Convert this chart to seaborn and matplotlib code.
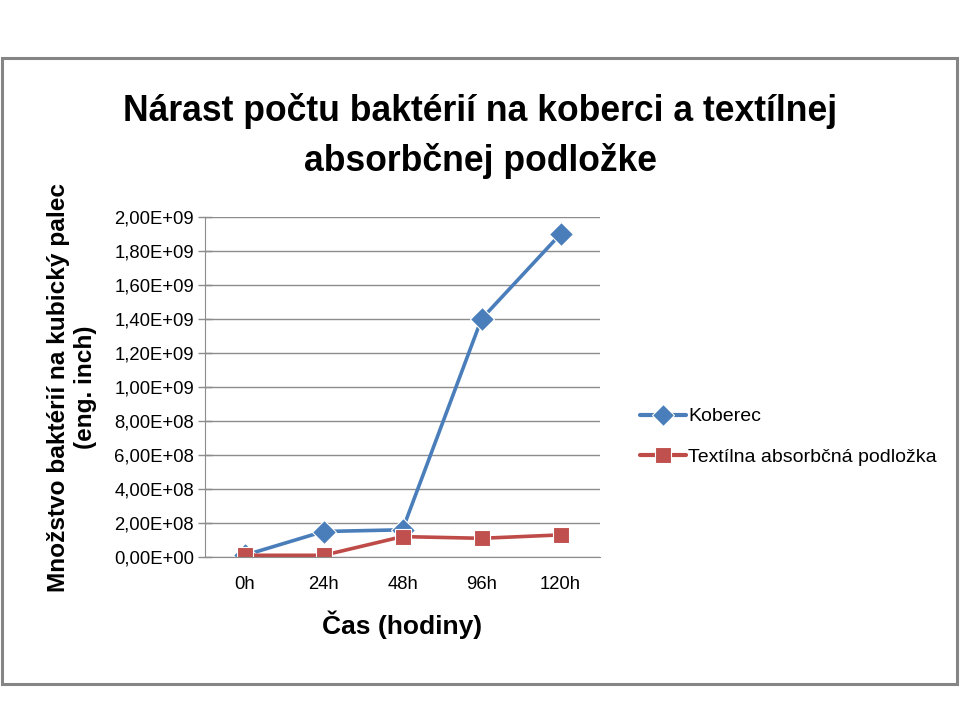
import pandas as pd
import seaborn as sns
import matplotlib.pyplot as plt
from matplotlib.patches import Rectangle
from matplotlib.ticker import FuncFormatter, MultipleLocator

casy = ['0h', '24h', '48h', '96h', '120h']
koberec = [1.0e7, 1.5e8, 1.6e8, 1.4e9, 1.9e9]
podlozka = [1.0e7, 1.0e7, 1.2e8, 1.1e8, 1.3e8]
serie = ['Koberec', 'Textílna absorbčná podložka']

data = pd.DataFrame({
    'cas': casy * 2,
    'hodnota': koberec + podlozka,
    'seria': [serie[0]] * len(casy) + [serie[1]] * len(casy),
})

sns.set_style('white')
plt.rcParams['font.family'] = ['Liberation Sans', 'DejaVu Sans']
plt.rcParams['text.color'] = 'black'
plt.rcParams['axes.labelcolor'] = 'black'
plt.rcParams['xtick.color'] = 'black'
plt.rcParams['ytick.color'] = 'black'

fig = plt.figure(figsize=(9.6, 7.2), dpi=100)
ax = fig.add_axes([205 / 960, 1 - 557 / 720, 395 / 960, 340 / 720])

farby = {serie[0]: '#4A7EBB', serie[1]: '#BE4B48'}
sns.lineplot(data=data, x='cas', y='hodnota', hue='seria', style='seria',
             palette=farby, markers={serie[0]: 'D', serie[1]: 's'},
             dashes=False, linewidth=2.6, markersize=12,
             markeredgewidth=0.8, ax=ax, sort=False)
for l in ax.lines:
    if l.get_color() == farby[serie[1]]:
        l.set_markerfacecolor('#C0504D')

ax.set_xlim(-0.5, 4.5)
ax.set_ylim(0, 2.0e9)
ax.yaxis.set_major_locator(MultipleLocator(2.0e8))
ax.yaxis.set_major_formatter(FuncFormatter(
    lambda v, p: ('%.2E' % v).replace('.', ',')))
ax.grid(axis='y', color='#8c8c8c', linewidth=1)
for s in ['top', 'right']:
    ax.spines[s].set_visible(False)
ax.spines['left'].set_color('#8c8c8c')
ax.spines['bottom'].set_color('#8c8c8c')
ax.tick_params(axis='y', direction='inout', length=10, width=1,
               color='#8c8c8c', labelcolor='black', labelsize=13.3, pad=3,
               left=True)
ax.tick_params(axis='x', length=0, labelsize=13.3, pad=14)

ax.set_xlabel('Čas (hodiny)', fontsize=19, fontweight='bold', labelpad=12)
ax.set_ylabel('Množstvo baktérií na kubický palec\n(eng. inch)',
              fontsize=17.6, fontweight='bold', labelpad=12, linespacing=1.25)

fig.text(0.5, 1 - 136 / 720,
         'Nárast počtu baktérií na koberci a textílnej\nabsorbčnej podložke',
         ha='center', va='center', fontsize=25.6, fontweight='bold',
         linespacing=1.5)

handles, labels = ax.get_legend_handles_labels()
for h in handles:
    h.set_markersize(11)
    h.set_linewidth(3)
ax.legend(handles, labels, loc='center left', frameon=False,
          bbox_to_anchor=(622 / 960, 1 - 437 / 720),
          bbox_transform=fig.transFigure, fontsize=14, handlelength=2.4,
          handletextpad=0.1, labelspacing=1.2)

fig.patches.append(Rectangle((2 / 960, 1 - 684 / 720), 955 / 960, 626 / 720,
                             transform=fig.transFigure, fill=False,
                             edgecolor='#858585', linewidth=2.2))

fig.savefig('out.png', dpi=100)
